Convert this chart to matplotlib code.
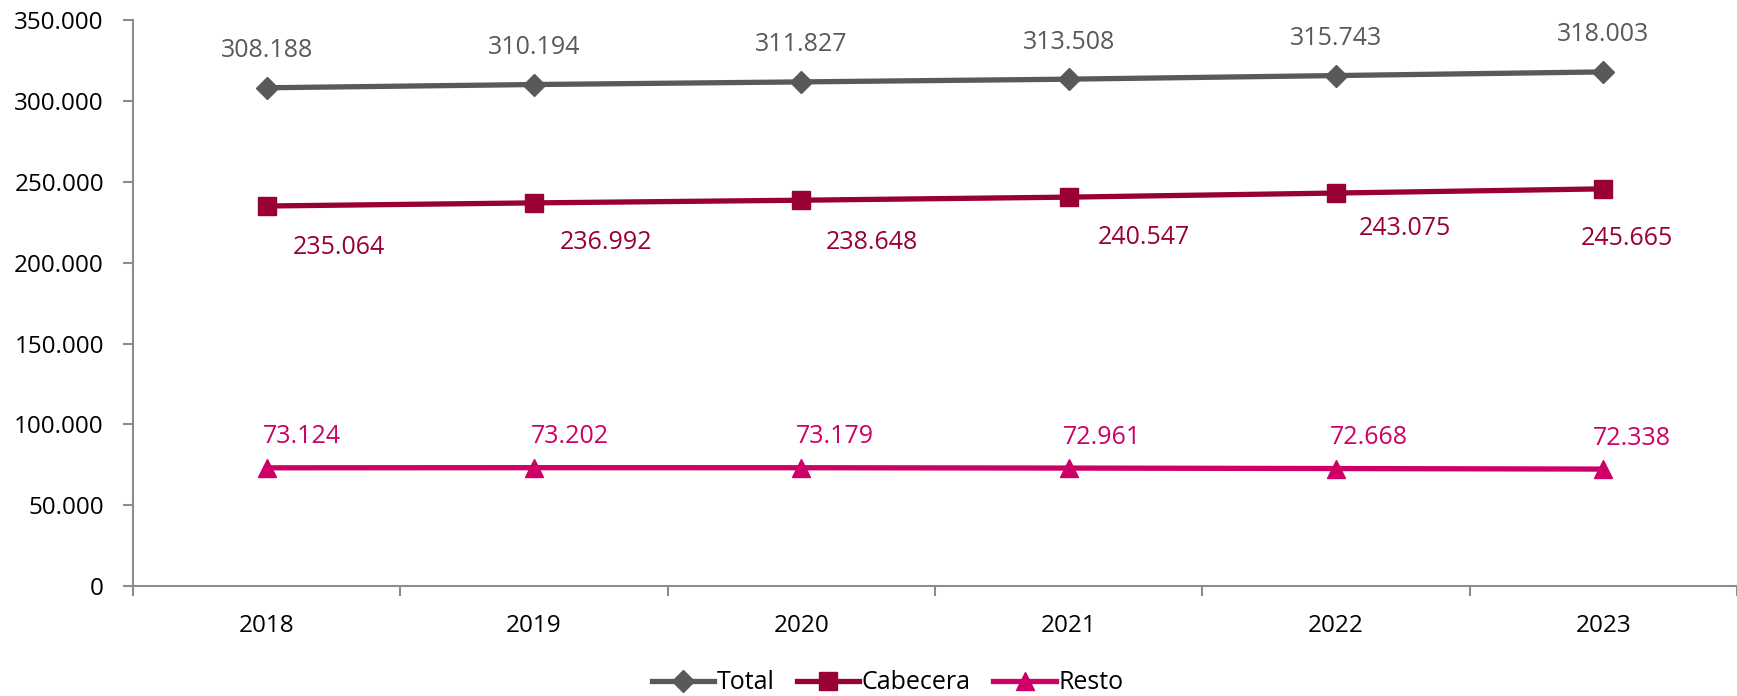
import matplotlib.pyplot as plt

plt.rcParams['font.family'] = ['Open Sans', 'DejaVu Sans']

years = ['2018', '2019', '2020', '2021', '2022', '2023']
total = [308188, 310194, 311827, 313508, 315743, 318003]
cabecera = [235064, 236992, 238648, 240547, 243075, 245665]
resto = [73124, 73202, 73179, 72961, 72668, 72338]

def fmt(v):
    return f"{v:,}".replace(',', '.')

c_total = '#595959'
c_cab = '#990033'
c_resto = '#CC0066'
axis_col = '#8C8C8C'

fig = plt.figure(figsize=(17.37, 6.96), dpi=100)
ax = fig.add_axes([0.0766, 0.158, 0.9234, 0.813])

x = list(range(len(years)))
ax.plot(x, total, color=c_total, lw=3.8, marker='D', ms=11, label='Total')
ax.plot(x, cabecera, color=c_cab, lw=3.8, marker='s', ms=13, label='Cabecera')
ax.plot(x, resto, color=c_resto, lw=3.8, marker='^', ms=13, label='Resto')

# etiquetas de datos (desplazamiento en pixeles)
cab_dx = [72, 72, 71, 75, 69, 24]
cab_dy = [-41, -40, -42, -40, -35, -50]
resto_dx = [35, 36, 34, 33, 33, 29]
for i in x:
    ax.annotate(fmt(total[i]), (i, total[i]), xytext=(0, 37), textcoords='offset pixels',
                ha='center', va='center', fontsize=18, color=c_total)
    ax.annotate(fmt(cabecera[i]), (i, cabecera[i]), xytext=(cab_dx[i], cab_dy[i]),
                textcoords='offset pixels', ha='center', va='center', fontsize=18, color=c_cab)
    ax.annotate(fmt(resto[i]), (i, resto[i]), xytext=(resto_dx[i], 31),
                textcoords='offset pixels', ha='center', va='center', fontsize=18, color=c_resto)

ax.set_xlim(-0.5, 5.5)
ax.set_ylim(0, 350000)
ax.set_yticks(range(0, 350001, 50000))
ax.set_yticklabels([fmt(v) for v in range(0, 350001, 50000)])

ax.set_xticks([i - 0.5 for i in range(len(years) + 1)])
ax.set_xticklabels([])
ax.set_xticks(x, minor=True)
ax.set_xticklabels(years, minor=True)

ax.tick_params(axis='y', which='major', length=7, width=1.5, color=axis_col,
               labelsize=17.5, pad=14)
ax.tick_params(axis='x', which='major', length=7, width=1.5, color=axis_col)
ax.tick_params(axis='x', which='minor', length=0, labelsize=17.5, pad=20)

for s in ['top', 'right']:
    ax.spines[s].set_visible(False)
for s in ['left', 'bottom']:
    ax.spines[s].set_color(axis_col)
    ax.spines[s].set_linewidth(1.5)

fig.legend(loc='center', bbox_to_anchor=(0.511, 0.019), ncol=3, frameon=False,
           fontsize=18, handlelength=2.5, handletextpad=0.1, columnspacing=0.9)

plt.savefig('out.png', dpi=100)
